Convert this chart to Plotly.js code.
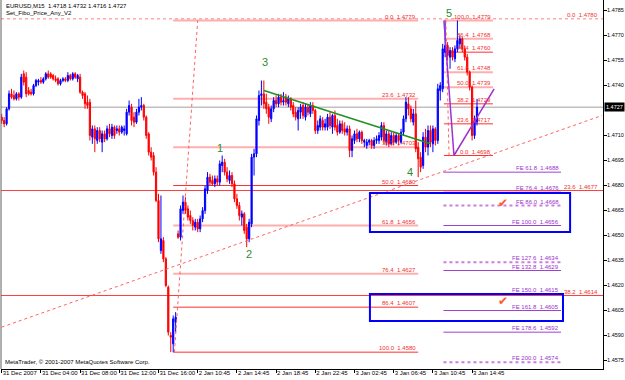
<!DOCTYPE html>
<html>
<head>
<meta charset="utf-8">
<script src="https://cdn.plot.ly/plotly-3.0.1.min.js"></script>
<style>html,body{margin:0;padding:0;background:#fff;}#chart{width:625px;height:380px;}</style>
</head>
<body>
<div id="chart"></div>
<script>
// ---- Data (EURUSD M15 candles) ----
const openP = [1.4721,1.4719,1.4717,1.4726,1.4735,1.4734,1.4732,1.4735,1.4733,1.4747,1.4745,1.4737,1.4736,1.4735,1.4740,1.4742,1.4743,1.4742,1.4744,1.4747,1.4747,1.4746,1.4744,1.4744,1.4741,1.4743,1.4744,1.4743,1.4746,1.4744,1.4747,1.4744,1.4745,1.4736,1.4735,1.4730,1.4730,1.4709,1.4714,1.4707,1.4713,1.4706,1.4711,1.4708,1.4714,1.4710,1.4715,1.4713,1.4714,1.4712,1.4713,1.4711,1.4724,1.4727,1.4721,1.4718,1.4724,1.4727,1.4728,1.4721,1.4711,1.4700,1.4698,1.4688,1.4671,1.4641,1.4647,1.4636,1.4619,1.4590,1.4585,1.4598,1.4651,1.4649,1.4665,1.4670,1.4666,1.4662,1.4659,1.4655,1.4658,1.4654,1.4660,1.4665,1.4677,1.4685,1.4683,1.4681,1.4684,1.4682,1.4692,1.4694,1.4688,1.4683,1.4686,1.4681,1.4672,1.4668,1.4661,1.4663,1.4655,1.4648,1.4657,1.4697,1.4699,1.4719,1.4734,1.4735,1.4730,1.4727,1.4720,1.4726,1.4731,1.4729,1.4733,1.4730,1.4733,1.4729,1.4732,1.4728,1.4724,1.4720,1.4724,1.4728,1.4721,1.4727,1.4723,1.4728,1.4725,1.4713,1.4715,1.4719,1.4715,1.4715,1.4721,1.4715,1.4722,1.4716,1.4712,1.4717,1.4714,1.4712,1.4714,1.4701,1.4707,1.4711,1.4708,1.4712,1.4706,1.4704,1.4706,1.4707,1.4704,1.4707,1.4707,1.4709,1.4716,1.4706,1.4711,1.4705,1.4710,1.4706,1.4710,1.4706,1.4712,1.4720,1.4729,1.4726,1.4718,1.4723,1.4703,1.4697,1.4692,1.4709,1.4703,1.4713,1.4705,1.4714,1.4707,1.4737,1.4738,1.4760,1.4764,1.4757,1.4761,1.4756,1.4762,1.4765,1.4768,1.4762,1.4757,1.4748,1.4739,1.4710,1.4718];
const highP = [1.4723,1.4721,1.4727,1.4737,1.4738,1.4737,1.4736,1.4736,1.4747,1.4749,1.4748,1.4739,1.4738,1.4741,1.4744,1.4744,1.4745,1.4745,1.4748,1.4749,1.4748,1.4747,1.4746,1.4745,1.4744,1.4745,1.4745,1.4748,1.4747,1.4748,1.4748,1.4747,1.4747,1.4737,1.4736,1.4734,1.4732,1.4716,1.4716,1.4715,1.4715,1.4713,1.4713,1.4716,1.4717,1.4717,1.4716,1.4716,1.4716,1.4716,1.4716,1.4726,1.4731,1.4729,1.4724,1.4726,1.4732,1.4733,1.4729,1.4722,1.4712,1.4703,1.4700,1.4691,1.4675,1.4674,1.4649,1.4637,1.4620,1.4592,1.4602,1.4604,1.4653,1.4668,1.4674,1.4673,1.4668,1.4665,1.4661,1.4660,1.4660,1.4662,1.4667,1.4680,1.4688,1.4687,1.4686,1.4686,1.4686,1.4695,1.4698,1.4696,1.4691,1.4689,1.4688,1.4683,1.4675,1.4670,1.4665,1.4664,1.4657,1.4660,1.4699,1.4702,1.4722,1.4737,1.4743,1.4743,1.4735,1.4729,1.4728,1.4733,1.4734,1.4735,1.4735,1.4736,1.4735,1.4734,1.4733,1.4730,1.4727,1.4727,1.4729,1.4730,1.4729,1.4729,1.4730,1.4730,1.4726,1.4719,1.4722,1.4721,1.4720,1.4723,1.4724,1.4723,1.4725,1.4720,1.4719,1.4719,1.4718,1.4716,1.4716,1.4710,1.4713,1.4714,1.4713,1.4713,1.4708,1.4708,1.4708,1.4708,1.4709,1.4710,1.4712,1.4718,1.4718,1.4713,1.4713,1.4712,1.4712,1.4712,1.4711,1.4714,1.4722,1.4733,1.4733,1.4728,1.4726,1.4731,1.4706,1.4700,1.4712,1.4714,1.4716,1.4716,1.4716,1.4715,1.4741,1.4742,1.4765,1.4779,1.4766,1.4763,1.4763,1.4764,1.4779,1.4770,1.4769,1.4764,1.4759,1.4749,1.4740,1.4722,1.4732];
const lowP = [1.4717,1.4715,1.4716,1.4725,1.4732,1.4731,1.4731,1.4731,1.4732,1.4740,1.4733,1.4734,1.4734,1.4734,1.4739,1.4740,1.4741,1.4741,1.4743,1.4744,1.4744,1.4743,1.4742,1.4740,1.4740,1.4742,1.4742,1.4742,1.4743,1.4743,1.4744,1.4742,1.4735,1.4732,1.4726,1.4726,1.4707,1.4705,1.4700,1.4705,1.4706,1.4700,1.4706,1.4707,1.4709,1.4708,1.4708,1.4711,1.4710,1.4711,1.4710,1.4710,1.4722,1.4716,1.4715,1.4717,1.4722,1.4725,1.4719,1.4708,1.4698,1.4695,1.4686,1.4670,1.4646,1.4639,1.4634,1.4619,1.4590,1.4580,1.4580,1.4592,1.4648,1.4647,1.4663,1.4663,1.4659,1.4657,1.4653,1.4653,1.4652,1.4652,1.4658,1.4663,1.4675,1.4680,1.4680,1.4679,1.4680,1.4680,1.4688,1.4686,1.4682,1.4681,1.4679,1.4670,1.4666,1.4659,1.4656,1.4651,1.4643,1.4646,1.4655,1.4686,1.4697,1.4716,1.4728,1.4726,1.4723,1.4717,1.4718,1.4724,1.4727,1.4727,1.4728,1.4728,1.4728,1.4727,1.4725,1.4721,1.4719,1.4713,1.4720,1.4720,1.4719,1.4722,1.4721,1.4723,1.4711,1.4711,1.4713,1.4713,1.4713,1.4713,1.4714,1.4711,1.4713,1.4710,1.4711,1.4711,1.4710,1.4710,1.4697,1.4697,1.4705,1.4706,1.4706,1.4705,1.4703,1.4702,1.4704,1.4702,1.4702,1.4705,1.4705,1.4707,1.4705,1.4704,1.4703,1.4704,1.4704,1.4705,1.4704,1.4705,1.4710,1.4718,1.4722,1.4718,1.4716,1.4700,1.4685,1.4688,1.4690,1.4700,1.4698,1.4703,1.4700,1.4704,1.4705,1.4731,1.4736,1.4757,1.4755,1.4750,1.4755,1.4754,1.4760,1.4762,1.4760,1.4755,1.4746,1.4737,1.4707,1.4708,1.4716];
const closeP = [1.4719,1.4717,1.4726,1.4735,1.4733,1.4732,1.4735,1.4733,1.4745,1.4742,1.4735,1.4735,1.4735,1.4740,1.4743,1.4743,1.4742,1.4744,1.4747,1.4745,1.4745,1.4744,1.4743,1.4741,1.4743,1.4744,1.4743,1.4746,1.4744,1.4747,1.4745,1.4746,1.4736,1.4734,1.4729,1.4728,1.4710,1.4714,1.4708,1.4713,1.4708,1.4711,1.4708,1.4714,1.4711,1.4715,1.4710,1.4714,1.4712,1.4715,1.4714,1.4724,1.4728,1.4719,1.4718,1.4724,1.4727,1.4728,1.4721,1.4710,1.4700,1.4697,1.4688,1.4671,1.4648,1.4648,1.4636,1.4620,1.4592,1.4589,1.4600,1.4601,1.4649,1.4666,1.4670,1.4665,1.4661,1.4659,1.4656,1.4658,1.4654,1.4660,1.4665,1.4678,1.4685,1.4682,1.4681,1.4684,1.4682,1.4693,1.4694,1.4688,1.4684,1.4686,1.4681,1.4672,1.4668,1.4662,1.4663,1.4653,1.4648,1.4658,1.4697,1.4699,1.4720,1.4734,1.4735,1.4729,1.4726,1.4721,1.4726,1.4731,1.4729,1.4733,1.4730,1.4731,1.4730,1.4732,1.4727,1.4723,1.4721,1.4725,1.4727,1.4722,1.4727,1.4724,1.4728,1.4725,1.4713,1.4716,1.4720,1.4715,1.4717,1.4721,1.4716,1.4722,1.4715,1.4712,1.4717,1.4713,1.4712,1.4714,1.4701,1.4708,1.4711,1.4708,1.4712,1.4707,1.4707,1.4706,1.4707,1.4704,1.4707,1.4708,1.4710,1.4716,1.4707,1.4711,1.4705,1.4710,1.4706,1.4710,1.4707,1.4712,1.4720,1.4730,1.4726,1.4720,1.4723,1.4702,1.4696,1.4691,1.4709,1.4703,1.4713,1.4706,1.4714,1.4707,1.4738,1.4740,1.4762,1.4764,1.4758,1.4761,1.4757,1.4762,1.4767,1.4768,1.4762,1.4757,1.4748,1.4739,1.4710,1.4719,1.4727];

const tickBars = [0,16,32,48,64,80,96,112,128,144,160,176,192];
const tickLabels = ['31 Dec 2007','31 Dec 04:00','31 Dec 08:00','31 Dec 12:00','31 Dec 16:00','2 Jan 10:45','2 Jan 14:45','2 Jan 18:45','2 Jan 22:45','3 Jan 02:45','3 Jan 06:45','3 Jan 10:45','3 Jan 14:45'];
// 1.4725 is hidden under the current-price box in the reference
const priceTicks = [1.4575,1.4590,1.4605,1.4620,1.4635,1.4650,1.4665,1.4680,1.4695,1.4710,1.4740,1.4755,1.4770,1.4785];

const fibo1Levels = [0.0,23.6,38.2,50.0,61.8,76.4,86.4,100.0];
const fibo1Prices = [1.4779,1.4732,1.4703,1.4680,1.4656,1.4627,1.4607,1.4580];
const fibo2Levels = [0.0,23.6,38.2];
const fibo2Prices = [1.4780,1.4677,1.4614];
const fibo3Levels = [100.0,86.4,76.4,61.8,50.0,38.2,23.6,0.0];
const fibo3Prices = [1.4779,1.4768,1.4760,1.4748,1.4739,1.4729,1.4717,1.4698];
const feLevels = [61.8,76.4,86.0,100.0,127.6,132.8,150.0,161.8,178.6,200.0];
const fePrices = [1.4688,1.4676,1.4668,1.4656,1.4634,1.4629,1.4615,1.4605,1.4592,1.4574];

const lastPrice = 1.4727;
const headerText = 'EURUSD,M15  1.4718 1.4732 1.4716 1.4727';
const indicatorName = 'Set_Fibo_Price_Any_V2';
const copyrightText = 'MetaTrader, \u00a9 2001-2007 MetaQuotes Software Corp.';

// drawn objects (bar index, price)
const trendRedX = [0,245], trendRedY = [1.4595,1.4722];
const trendGreenX = [107,175], trendGreenY = [1.4737,1.4705];
const fiboDiag1X = [70.5,80], fiboDiag1Y = [1.4580,1.4779];
const fiboDiag3X = [181.3,182.6], fiboDiag3Y = [1.4779,1.4698];
const feZigX = [180.5,184.6,201], feZigY = [1.4779,1.4698,1.4738];
const waveNames = ['1','2','3','4','5'];
const waveBars = [89,101,107.5,166.7,182.6];
const wavePrices = [1.47025,1.46389,1.47541,1.46881,1.47835];
const zoneBars = [[150.3,232],[150.3,229.1]];
const zonePrices = [[1.46521,1.46755],[1.45987,1.46149]];
const checkBars = [204.6,204.5];
const checkPrices = [1.46695,1.46107];

// ---- Build ----
const idx = openP.map((_, i) => i);
const FIB1_END = 170, FIB1_START = 70;
const FIB3_START = 180.5, FIB3_END = 200.5;
const FE_START = 180.3, FE_END = 228.3;
const pink = 'rgba(255,120,120,0.6)';
const red = '#ff3030';
const purple = '#a040d0';

const traces = [{
  type:'candlestick', x: idx, open: openP, high: highP, low: lowP, close: closeP,
  increasing:{line:{color:'#0000ff', width:1}, fillcolor:'#0000ff'},
  decreasing:{line:{color:'#ff0000', width:1}, fillcolor:'#ff0000'},
  hoverinfo:'skip'
},{
  type:'scatter', mode:'lines', x: trendRedX, y: trendRedY, line:{color:'#ff6060', width:1, dash:'dot'}, hoverinfo:'skip'
},{
  type:'scatter', mode:'lines', x: fiboDiag1X, y: fiboDiag1Y, line:{color:'#ff6060', width:1, dash:'dot'}, hoverinfo:'skip'
},{
  type:'scatter', mode:'lines', x: fiboDiag3X, y: fiboDiag3Y, line:{color:'#ff6060', width:1, dash:'dot'}, hoverinfo:'skip'
},{
  type:'scatter', mode:'lines', x: trendGreenX, y: trendGreenY, line:{color:'#209020', width:1.5}, hoverinfo:'skip'
},{
  type:'scatter', mode:'lines', x: feZigX, y: feZigY, line:{color:'#a030d0', width:1.5}, hoverinfo:'skip'
}];

const shapes = [];
const annotations = [];
const lblFont = (c) => ({family:'Liberation Sans, Arial, sans-serif', size:6, color:c});

// current price line
shapes.push({type:'line', xref:'paper', x0:0, x1:1, yref:'y', y0:lastPrice, y1:lastPrice, line:{color:'#a0a0a0', width:1}, layer:'below'});

// fibo 2 (full width)
fibo2Levels.forEach((lv, k) => {
  shapes.push({type:'line', xref:'paper', x0:0, x1:1, yref:'y', y0:fibo2Prices[k], y1:fibo2Prices[k],
    line:{color: k===0 ? '#ff8080' : '#ff4040', width:1, dash: k===0 ? 'dot' : 'solid'}, layer:'below'});
  annotations.push({xref:'paper', x:1, xanchor:'right', xshift:-3, yref:'y', y:fibo2Prices[k], yanchor:'bottom', yshift:-1,
    text: lv.toFixed(1)+'  '+fibo2Prices[k].toFixed(4), showarrow:false, font:lblFont('#f03030')});
});

// fibo 1
const f1Pink = [0,23.6,38.2,61.8,76.4];
fibo1Levels.forEach((lv, k) => {
  const isPink = f1Pink.includes(lv);
  shapes.push({type:'line', xref:'x', x0:FIB1_START, x1:FIB1_END, yref:'y', y0:fibo1Prices[k], y1:fibo1Prices[k],
    line:{color: isPink ? pink : red, width: isPink ? 2 : 1}, layer:'below'});
  annotations.push({xref:'x', x:FIB1_END, xanchor:'right', yref:'y', y:fibo1Prices[k], yanchor:'bottom', yshift:-1,
    text: lv.toFixed(1)+'  '+fibo1Prices[k].toFixed(4), showarrow:false, font:lblFont('#f03030')});
});

// fibo 3
const f3Pink = [100,86.4,61.8,50];
fibo3Levels.forEach((lv, k) => {
  const isPink = f3Pink.includes(lv);
  shapes.push({type:'line', xref:'x', x0:FIB3_START, x1:FIB3_END, yref:'y', y0:fibo3Prices[k], y1:fibo3Prices[k],
    line:{color: isPink ? pink : red, width: isPink ? 2 : 1}, layer:'below'});
  annotations.push({xref:'x', x:FIB3_END, xanchor:'right', yref:'y', y:fibo3Prices[k], yanchor:'bottom', yshift:-1,
    text: lv.toFixed(1)+'  '+fibo3Prices[k].toFixed(4), showarrow:false, font:lblFont('#f03030')});
});

// FE levels
const feDotted = [86.0,127.6,200.0];
feLevels.forEach((lv, k) => {
  const dotted = feDotted.includes(lv);
  shapes.push({type:'line', xref:'x', x0:FE_START, x1:FE_END, yref:'y', y0:fePrices[k], y1:fePrices[k],
    line:{color: dotted ? 'rgba(190,90,220,0.8)' : purple, width: dotted ? 2 : 1, dash: dotted ? 'dot' : 'solid'}, layer:'below'});
  annotations.push({xref:'x', x:FE_END, xanchor:'right', yref:'y', y:fePrices[k], yanchor:'bottom', yshift:-1,
    text: 'FE '+lv.toFixed(1)+'  '+fePrices[k].toFixed(4), showarrow:false, font:lblFont('#9933cc')});
});

// blue zones
zoneBars.forEach((zb, k) => {
  shapes.push({type:'rect', xref:'x', x0:zb[0], x1:zb[1], yref:'y', y0:zonePrices[k][0], y1:zonePrices[k][1],
    line:{color:'#0000ff', width:2}, fillcolor:'rgba(0,0,0,0)'});
});

// left frame
shapes.push({type:'line', xref:'paper', x0:0, x1:0, yref:'paper', y0:0, y1:1, line:{color:'#606060', width:1}});

// wave numbers
waveNames.forEach((w, k) => {
  annotations.push({xref:'x', x:waveBars[k], yref:'y', y:wavePrices[k], text:w, showarrow:false,
    font:{family:'Liberation Sans, Arial, sans-serif', size:11, color:'#2e8b2e'}});
});
// check marks
checkBars.forEach((b, k) => {
  annotations.push({xref:'x', x:b, yref:'y', y:checkPrices[k], text:'\u2714', showarrow:false,
    font:{family:'DejaVu Sans, sans-serif', size:12, color:'#ff5a2a'}});
});

// header and footer text
annotations.push({xref:'paper', x:0, xanchor:'left', xshift:3, yref:'paper', y:1, yanchor:'top', yshift:-1,
  text: headerText, showarrow:false, font:lblFont('#000')});
annotations.push({xref:'paper', x:0, xanchor:'left', xshift:3, yref:'paper', y:1, yanchor:'top', yshift:-8,
  text: indicatorName, showarrow:false, font:lblFont('#000')});
annotations.push({xref:'paper', x:0, xanchor:'left', xshift:2, yref:'paper', y:0, yanchor:'bottom', yshift:2,
  text: copyrightText, showarrow:false, font:lblFont('#000')});
// price box
annotations.push({xref:'paper', x:1, xanchor:'left', xshift:1, yref:'y', y:lastPrice, yanchor:'middle',
  text: lastPrice.toFixed(4), showarrow:false, bgcolor:'#000', borderpad:1,
  font:{family:'Liberation Sans, Arial, sans-serif', size:5.5, color:'#fff'}});

const layout = {
  width:625, height:380,
  margin:{l:1, r:22, t:0, b:11, pad:0},
  paper_bgcolor:'#fff', plot_bgcolor:'#fff',
  showlegend:false,
  font:{family:'Liberation Sans, Arial, sans-serif', size:6, color:'#000'},
  xaxis:{type:'linear', range:[-0.286,245.43], rangeslider:{visible:false}, tickmode:'array', tickvals:tickBars, ticktext:tickLabels,
    ticks:'outside', ticklen:3, tickwidth:1, tickcolor:'#000', showline:true, linecolor:'#000', linewidth:1,
    showgrid:false, zeroline:false, ticklabelposition:'outside right', tickangle:0, ticklabelstandoff:-2,
    tickfont:{size:6}, automargin:false},
  yaxis:{side:'right', range:[1.45699,1.47913], tickmode:'array', tickvals:priceTicks, tickformat:'.4f',
    ticks:'outside', ticklen:3, tickwidth:1, tickcolor:'#000', showline:true, linecolor:'#000', linewidth:1,
    showgrid:false, zeroline:false, tickfont:{size:5.5}, ticklabelstandoff:-1, automargin:false},
  shapes: shapes,
  annotations: annotations
};

Plotly.newPlot('chart', traces, layout, {staticPlot:true, displayModeBar:false});
</script>
</body>
</html>
